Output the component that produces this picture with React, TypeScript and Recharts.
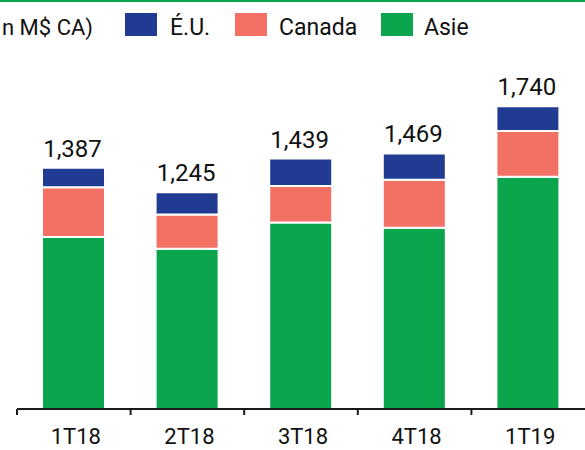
import React from 'react';
import { BarChart, Bar, XAxis, YAxis, LabelList } from 'recharts';

const categories = ['1T18', '2T18', '3T18', '4T18', '1T19'];
const asie = [988, 921, 1072, 1042, 1335];
const canada = [287, 197, 210, 276, 263];
const eu = [112, 127, 157, 151, 142];
const totals = [1387, 1245, 1439, 1469, 1740];
const seriesNames = ['É.U.', 'Canada', 'Asie'];
const seriesColors = ['#213A92', '#F27164', '#0AA54C'];
const unitLabel = 'n M$ CA)';

const data = categories.map((cat, i) => ({
  cat,
  asie: asie[i],
  canada: canada[i],
  eu: eu[i],
  total: totals[i],
}));

const W = 585;
const H = 450;
const LEFT = 17;
const BAND = (W - LEFT) / categories.length;
const MAIN_FONT = "Roboto, 'Liberation Sans', sans-serif";

const Tick = (props: any) => {
  const { x, y, payload } = props;
  const half = BAND / 2;
  return (
    <g>
      <line x1={x - half} y1={y} x2={x - half} y2={y + 6} stroke="#1a1a1a" strokeWidth={2} />
      <text x={x + 2} y={y + 35} textAnchor="middle" fontSize={22} fontFamily={MAIN_FONT} fill="#111">
        {payload.value}
      </text>
    </g>
  );
};

const TotalLabel = (props: any) => {
  const { x, y, width, value } = props;
  return (
    <text
      x={Number(x) + Number(width) / 2 - 1}
      y={Number(y) - 11}
      textAnchor="middle"
      fontSize={24}
      fontFamily={MAIN_FONT}
      fill="#111"
    >
      {Number(value).toLocaleString('en-US')}
    </text>
  );
};

const legendSquareX = [125, 235, 381];
const legendTextX = [170, 279, 424];

export default function App() {
  return (
    <div style={{ position: 'absolute', left: 0, top: 0, width: W, height: H, background: '#fff', overflow: 'hidden' }}>
      <BarChart width={W} height={H} data={data} margin={{ top: 61, right: 0, left: LEFT, bottom: 0 }}>
        <XAxis
          dataKey="cat"
          height={41}
          tick={<Tick />}
          tickLine={false}
          tickSize={0}
          tickMargin={0}
          axisLine={{ stroke: '#1a1a1a', strokeWidth: 2 }}
          interval={0}
        />
        <YAxis hide domain={[0, 2000]} />
        <Bar dataKey="asie" stackId="a" fill={seriesColors[2]} stroke="#fff" strokeWidth={2} barSize={63} isAnimationActive={false} />
        <Bar dataKey="canada" stackId="a" fill={seriesColors[1]} stroke="#fff" strokeWidth={2} barSize={63} isAnimationActive={false} />
        <Bar dataKey="eu" stackId="a" fill={seriesColors[0]} stroke="#fff" strokeWidth={2} barSize={63} isAnimationActive={false}>
          <LabelList dataKey="total" content={<TotalLabel />} />
        </Bar>
      </BarChart>
      <svg width={W} height={60} style={{ position: 'absolute', left: 0, top: 0 }}>
        <rect x={0} y={0} width={W} height={2} fill="#0AA54C" />
        <text x={2} y={35} fontSize={22} fontFamily={MAIN_FONT} fill="#111">
          {unitLabel}
        </text>
        {seriesNames.map((name, i) => (
          <g key={name}>
            <rect x={legendSquareX[i]} y={13} width={32} height={23} fill={seriesColors[i]} />
            <text x={legendTextX[i]} y={35} fontSize={23} fontFamily={MAIN_FONT} fill="#111">
              {name}
            </text>
          </g>
        ))}
      </svg>
    </div>
  );
}
